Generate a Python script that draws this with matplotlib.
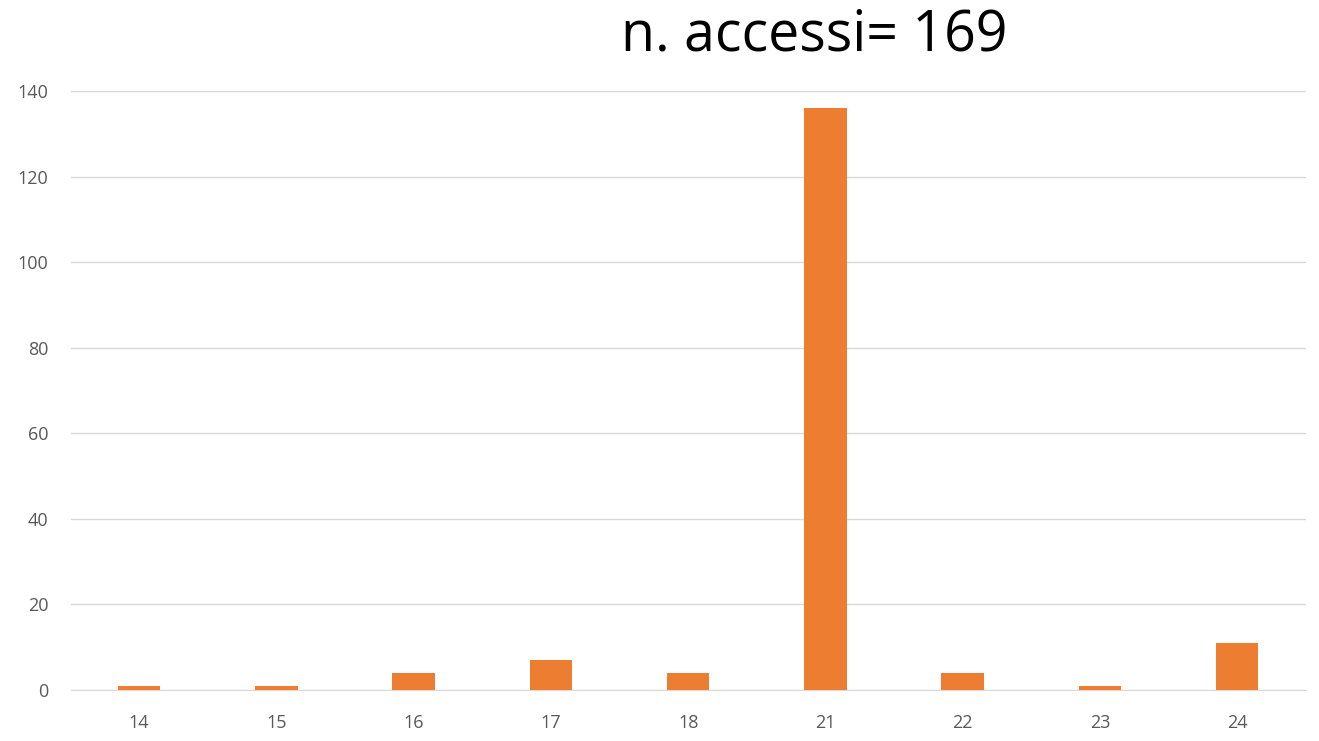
import matplotlib.pyplot as plt

# données
categories = ["14", "15", "16", "17", "18", "21", "22", "23", "24"]
accessi = [1, 1, 4, 7, 4, 136, 4, 1, 11]
titolo = "n. accessi= " + str(sum(accessi))

fig = plt.figure(figsize=(13.19, 7.41), dpi=100)
ax = fig.add_axes([0.0535, 0.0688, 0.9365, 0.8084])

x = range(len(categories))
ax.bar(x, accessi, width=0.31, color="#ED7D31", zorder=3)

ax.set_xlim(-0.5, len(categories) - 0.5)
ax.set_ylim(0, 140)
ax.set_yticks(range(0, 141, 20))
ax.set_xticks(list(x))
ax.set_xticklabels(categories)

ax.grid(axis="y", color="#D9D9D9", linewidth=1, zorder=0)
for s in ["top", "right", "left"]:
    ax.spines[s].set_visible(False)
ax.spines["bottom"].set_color("#D9D9D9")
ax.tick_params(axis="both", length=0, labelsize=13, labelcolor="#595959")
ax.tick_params(axis="x", pad=17)
ax.tick_params(axis="y", pad=16)
for lab in ax.get_xticklabels() + ax.get_yticklabels():
    lab.set_family("Open Sans")

fig.text(0.617, 0.952, titolo, ha="center", va="center", fontsize=40, family="Open Sans")

fig.savefig("out.png", dpi=100)
